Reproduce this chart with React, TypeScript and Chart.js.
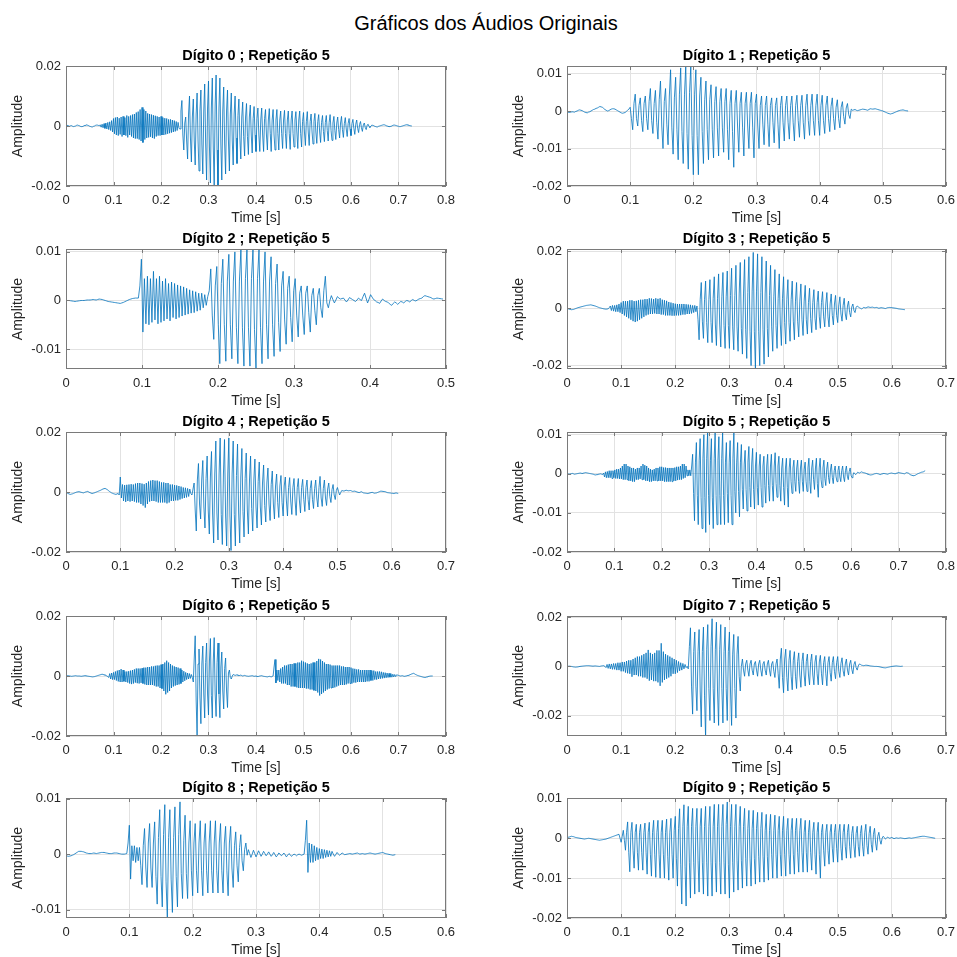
import React, { useEffect, useRef } from "react";
import { Chart, registerables } from "chart.js";

Chart.register(...registerables);

// Amplitude arrays are written in thousandths (value * AMP_UNIT = amplitude),
// one value every ~2 ms from t = 0 to the recording's duration.
const AMP_UNIT = 0.001;

const figureTitle = "Gráficos dos Áudios Originais";
const digitLabels = ["0", "1", "2", "3", "4", "5", "6", "7", "8", "9"];
const repetition = "5";

// length of each recording in seconds
const durations = [0.728, 0.54, 0.496, 0.624, 0.612, 0.756, 0.772, 0.62, 0.52, 0.68];
const xMaxes = [0.8, 0.6, 0.5, 0.7, 0.7, 0.8, 0.8, 0.7, 0.6, 0.7];
const yMins = [-0.02, -0.02, -0.0141, -0.0212, -0.02, -0.02, -0.02, -0.0283, -0.0115, -0.02];
const yMaxes = [0.02, 0.012, 0.0106, 0.0207, 0.02, 0.0107, 0.02, 0.0205, 0.0101, 0.0101];
const yTickSets = [
  [-0.02, 0, 0.02],
  [-0.02, -0.01, 0, 0.01],
  [-0.01, 0, 0.01],
  [-0.02, 0, 0.02],
  [-0.02, 0, 0.02],
  [-0.02, -0.01, 0, 0.01],
  [-0.02, 0, 0.02],
  [-0.02, 0, 0.02],
  [-0.01, 0, 0.01],
  [-0.02, -0.01, 0, 0.01],
];
const xTicks08 = [0, 0.1, 0.2, 0.3, 0.4, 0.5, 0.6, 0.7, 0.8];

const amp0 = [
  0, 0.1, 0.2, 0, -0.1, 0.1, 0.1, -0.1, -0.2, -0.1, 0, 0.2, 0.3, 0.2, 0.1, -0.1, -0.2, -0.2, -0.1, 0.1, 0.2, 0.3, 0.4, 0.2, 0.1, -0.1, -0.2, -0.3, -0.3, -0.1, 0, 0.2, 0.3, 0.3, 0.2, 0.1,
  0.4, -0.4, 0.6, -0.6, 0.8, -0.8, 1, -1, 1.2, -1.2, 1.4, -1.5, 1.8, -2,
  2.5, -2.6, 2.8, -3, 3, -3.2, 2.6, -2.8, 3, -3.5, 3.2, -3, 2.8, -3.2, 3.5, -3.8, 3.2, -3, 3.5, -3.5,
  3.8, -4, 4, -4.2, 4.5, -4.2, 4.8, -4.5, 5.5, -5, 6.2, -5.5, 5.5, -4.5, 5, -4, 4.2, -3.8, 4, -3.6,
  3.8, -4, 3.6, -4.2, 3.4, -3.5, 3.2, -3.2, 3, -3.2, 3.2, -3, 2.8, -3, 2.6, -2.8, 2.5, -2.6, 2.2, -2.4,
  2.2, -2.2, 2, -2, 1.8, -1.8, 1.5, -1.5, 1.2, -0.8,
  -1, 5, 8.5, -3, -8, 1, 3, -5, -11, 4, 10, -4, -12, 3, 9, -5, -13, 4, 11, -5,
  -15, 5, 12, -6, -16, 5, 14, -6, -18, 6, 15, -7, -19, 6, 16, -7, -20, 7, 17, -8,
  -20, 6, 16, -6, -18, 5, 13, -6, -16, 5, 12, -5, -15, 4, 11, -5, -13, 4, 10, -4,
  -12.5, 3.5, 9, -4, -11, 3, 8, -3.5, -10, 3, 7.5, -3.5, -9.5, 3, 7, -3, -9, 2.5, 6.5, -3,
  -8.5, 2.5, 6, -3, -8.5, 2, 6, -3, -8.5, 2.5, 5.5, -3, -8, 2, 5.8, -2.5, -8.5, 2, 5.5, -3,
  -8, 2, 5.5, -2.5, -8, 2, 5, -2.5, -7.5, 2, 5.2, -2.5, -7.5, 2, 5, -2.5, -7.8, 2, 5, -2.5,
  -7, 2, 4.8, -2, -7.5, 2, 5, -2.5, -7, 1.5, 4.5, -2, -6.5, 1.5, 4.8, -2, -6.5, 1.5, 4, -2,
  -6, 1.5, 4.2, -2, -5.8, 1.5, 3.8, -2, -5.5, 1.2, 3.5, -1.8, -5.2, 1.2, 3.5, -1.5, -5, 1.2, 3.8, -1.5,
  -4.8, 1, 3.2, -1.5, -4.5, 1, 3, -1.2, -4, 1, 3.2, -1.2, -3.8, 0.8, 2.8, -1, -3.5, 0.8, 2.5, -1,
  -3.2, 0.8, 2.2, -0.8, -2.8, 0.6, 2, -0.8, -2.2, 0.5, 1.5, -0.6, -1.8, 0.4, 1, -0.5, -1.2, 0.3, 0.6, -0.2,
  -0.5, 0,
  0.3, 0.2, 0.1, -0.1, -0.2, -0.3, -0.3, -0.1, 0, 0.1, 0.2, 0.3, 0.4, 0.4, 0.3, 0.1, 0, -0.1, -0.2, -0.2,
  -0.1, 0, 0.2, 0.3, 0.3, 0.2, 0.1, 0, -0.1, -0.2, -0.2, -0.1, 0, 0.1, 0.2, 0.3, 0.4, 0.4, 0.3, 0.2,
  0.1, 0.05, 0,
];

const amp1 = [
  -0.3, -0.35, -0.4, -0.3, -0.2, -0.25, -0.3, -0.1, 0, 0.2, 0.3, 0.2, 0.1, -0.1, -0.3, -0.4, -0.5, -0.3, -0.2, 0,
  0.2, 0.4, 0.5, 0.7, 0.8, 1, 1.2, 1.1, 1.0, 0.7, 0.4, 0.2, 0, 0.1, 0.3, 0.5, 0.6, 0.6, 0.5, 0.3,
  0.1, -0.1, -0.3, -0.5, -0.6, -0.5, -0.4, -0.1, 0.2, 0.5,
  1, -2, -5, 2, 4.5, -2, -4, 1.5, 3.5, -2.5, -5.5, 2, 4, -2, -5, 2.5, 6, -2.5, -6, 2,
  5.5, -3, -7.5, 3, 8, -4, -10, 2.5, 6, -3.5, -9, 4, 11, -4.5, -11.5, 3.5, 9, -5, -13, 4.5,
  11.5, -5.5, -14, 4.5, 12, -6, -15.5, 5, 12, -6.5, -17, 4.5, 11, -6.5, -17, 4, 9, -5.5, -14, 3,
  8, -5, -13, 3, 7, -5, -12.5, 2.5, 6.5, -4.5, -12, 2.5, 6, -4.5, -11, 2.5, 6, -5, -13, 2,
  5.5, -5.5, -15, 2, 5.5, -4, -11, 2, 5, -4.5, -12, 2, 5, -4, -10, 2, 5, -4.5, -12.5, 2,
  4.5, -4, -10, 1.5, 4, -3.5, -9, 1.5, 4, -3.5, -9.5, 1.5, 3.5, -3, -8.5, 1.5, 3.5, -3.5, -10, 1.5,
  4, -3, -8, 1.5, 4, -3, -7.5, 1.5, 4, -3, -8, 1.5, 4.2, -2.5, -7, 1.5, 4.2, -3, -7.5, 1.5,
  4.5, -2.5, -6.5, 1.5, 4.5, -2.5, -6.5, 1.5, 4.5, -2.5, -6.5, 1.5, 4.2, -2.5, -6, 1.5, 4, -2, -5.5, 1.2,
  3.5, -2, -5, 1, 3, -2, -4.5, 1, 2.5, -1.5, -3.5, 0.8, 2, -1, -2, 0.5,
  0.2, 0.3, 0.4, 0.2, 0.1, 0.2, 0.3, 0.4, 0.5, 0.45, 0.4, 0.3, 0.2, 0.4, 0.6, 0.55, 0.5, 0.55, 0.6, 0.5,
  0.4, 0.3, 0.2, 0.1, 0, -0.15, -0.3, -0.45, -0.6, -0.7, -0.8, -0.7, -0.6, -0.45, -0.3, -0.15, 0, 0.1, 0.2, 0.25,
  0.3, 0.2, 0.1, 0.05, 0,
];

const amp2 = [
  0, 0, 0, -0.05, -0.1, -0.15, -0.2, -0.15, -0.1, -0.05, 0, 0, 0, 0.05, 0.1, 0.1, 0.1, 0.15, 0.2, 0.15,
  0.1, 0.2, 0.3, 0.25, 0.2, 0.1, 0, -0.1, -0.2, -0.25, -0.3, -0.35, -0.4, -0.45, -0.5, -0.55, -0.6, -0.5, -0.4, -0.25,
  -0.1, 0.05, 0.2, 0.3, 0.4, 0.45, 0.5, 0.5, 0.5, 3,
  8.5, -6.5, 4.5, -4.8, 5, -5, 4.5, -4.5, 6, -4, 4.5, -4.8, 5, -4.5, 4, -4.2, 4.5, -3.8, 3.5, -4.2,
  3.8, -3.5, 3.5, -3.8, 3.2, -3.5, 3, -3.2, 2.8, -3, 2.5, -2.8, 2.2, -2.6, 2, -2.5, 1.8, -2.2, 1.5, -2,
  1.5, -1.5, 1.2, -1,
  0.8, 2,
  6.5, -3, -8, 3, 7, -5, -13, 3.5, 8.5, -5, -12.5, 4, 9.5, -5, -12, 4, 10, -5.5, -13, 4,
  10.5, -5.5, -13.5, 4.5, 10.5, -5.5, -13.5, 4.5, 10.5, -6, -14, 4.5, 10.5, -5.5, -13, 4, 10, -5, -12, 4,
  9, -5, -11.5, 3.5, 7.5, -4.5, -10.5, 3, 6, -4, -9, 2.5, 5, -3.5, -8.5, 2, 4.5, -3, -7.5, 1.5,
  3, -3, -7, 1.5, 3, -2.5, -6.5, 1, 2.5, -2, -5, 1, 2.5, -1.5, -3.5, 2, 5, -0.5, -1.5, 0,
  1, 0.2, -0.5, 0.1, 0.8, 0.5, 0.3, 0.4, 0.5, 0.1, -0.3, 0.1, 0.6, 0.4, 0.2, 0, -0.2, 0.1, 0.5, 0.2,
  0, 0.8, 1.5, 0.5, -0.5, 0.3, 1.2, 0.7, 0.2, 0, -0.3, -0.4, -0.6, -0.1, 0.3, 0, -0.2, -0.3, -0.5, -0.8,
  -1, -0.6, -0.3, -0.5, -0.8, -0.5, -0.2, -0.3, -0.5, -0.2, 0, -0.1, -0.3, 0, 0.2, 0, -0.1, 0.1, 0.3, 0.4,
  0.5, 0.8, 1, 0.9, 0.8, 0.7, 0.6, 0.4, 0.3, 0.4, 0.5, 0.45, 0.4, 0.35, 0.3,
];

const amp3 = [
  0, -0.15, -0.3, -0.4, -0.5, -0.45, -0.4, -0.25, -0.1, 0.05, 0.2, 0.3, 0.4, 0.5, 0.6, 0.7, 0.8, 0.9, 1, 1.05,
  1.1, 1.15, 1.2, 1.1, 1, 0.9, 0.8, 0.65, 0.5, 0.35, 0.2, 0.1, 0, -0.1, -0.2, -0.25, -0.3, -0.25, -0.2, 0.2,
  0.8, -0.8, 1, -1, 1, -1.2, 1.2, -1.2, 1.5, -1.5, 2, -2, 2.5, -2.5, 2.5, -3, 2.5, -3.5, 2.8, -4,
  2.8, -4.5, 2.5, -4.8, 2.6, -4.5, 2.8, -4, 3, -3.5, 3, -3, 3.2, -2.5, 3.2, -2.2, 3.5, -2, 3.4, -2,
  3.2, -1.8, 3.5, -2, 3.3, -2, 3.5, -2.2, 3, -2.2, 2.8, -2.5, 2.6, -2.5, 2.2, -2.5, 2, -2.6, 1.8, -2.6,
  1.6, -2.5, 1.5, -2.5, 1.5, -2.4, 1.5, -2.2, 1.5, -2.2, 1.4, -2, 1.3, -2, 1.2, -1.8, 1, -1.5, 1, -1.2,
  0.8, -4,
  -11, 3, 9, -4.5, -10.5, 3, 9.5, -5, -12, 3, 10, -5, -12, 3.5, 11, -5.5, -13, 3.5, 12, -5.5,
  -13.5, 4, 12.5, -6, -14, 4, 13, -6, -14, 4.5, 14, -6.5, -14.5, 4.5, 15, -6.5, -15, 5, 16, -7,
  -16, 5, 17, -7.5, -17.5, 5.5, 18, -8, -20, 6, 19.5, -8, -21, 6, 19, -8, -20, 5.5, 18, -7.5,
  -19.5, 5, 16.5, -7, -17, 4.5, 15, -6.5, -15, 4, 13.5, -6, -14, 3.5, 12, -5.5, -13, 3.5, 11, -5,
  -12.5, 3, 10, -5, -11.5, 3, 9.5, -4.5, -11, 2.5, 9, -4.5, -10, 2.5, 8.5, -4, -9.5, 2.5, 8, -4,
  -9, 2, 7, -3.5, -8.5, 2, 6.5, -3.5, -7.5, 2, 6, -3, -7, 2, 5.8, -3, -6.5, 1.5, 5.5, -3,
  -6.5, 1.5, 5, -2.5, -5.8, 1.5, 4.5, -2.5, -5, 1.2, 4, -2, -4.5, 1, 3.5, -2, -4, 0.8, 2.5, -1.5,
  -3, 0.5, 1.5, -0.8, -1.5, 0.3, 0.8, 0.5,
  0.2, 0, -0.2, 0, 0.3, 0.2, 0.1, 0.3, 0.5, 0.4, 0.3, 0.35, 0.4, 0.3, 0.2, 0.25, 0.3, 0.15, 0, 0.1,
  0.2, 0.15, 0.1, 0, -0.1, 0.05, 0.2, 0.25, 0.3, 0.25, 0.2, 0.15, 0.1, 0.05, 0, -0.1, -0.2, -0.25, -0.3, -0.35,
  -0.4, -0.45, -0.5,
];

const amp4 = [
  0, -0.3, -0.5, -0.7, -0.8, -0.7, -0.6, -0.45, -0.3, -0.15, 0, 0.05, 0.1, 0, -0.1, -0.2, -0.3, -0.15, 0, 0.1,
  0.2, 0, -0.2, -0.35, -0.5, -0.4, -0.3, -0.15, 0, 0.15, 0.3, 0.45, 0.6, 0.8, 1, 1.1, 1.2, 1, 0.8, 0.5,
  0.2, -0.05, -0.3, -0.45, -0.6, -0.7, -0.8, -0.65, -0.5, -1,
  5, -2, 2.5, -3, 2.3, -3.3, 2.4, -3, 2.5, -3.2, 2.6, -3, 2.5, -3.2, 2.8, -3.5, 3, -3.5, 3, -4,
  2.8, -4.5, 2.6, -5.2, 3, -4, 3.5, -3.2, 3.8, -3, 4, -3, 3.8, -3.2, 3.8, -3.5, 3.5, -3.5, 3.2, -3.5,
  3.2, -3.5, 3, -3.8, 3, -3.5, 2.5, -3, 2.5, -3, 2.3, -2.8, 2.2, -2.8, 2, -2.5, 1.8, -2.2, 1.5, -2,
  1.4, -1.8, 1.2, -1.5, 1, -0.5,
  -1, 1, 3, -6, -13, 4, 9.5, -4, -9, 4, 10.5, -5, -12, 4.5, 12, -6, -14, 5, 13.5, -7,
  -17, 6, 17, -7, -16, 6, 18, -7.5, -17.5, 6, 17.5, -8, -18, 6, 18, -8, -19.5, 6, 17, -7.5,
  -18, 5.5, 16, -7, -17, 5, 14.5, -6.5, -15, 4.5, 13, -6, -14, 4, 12, -5.5, -13, 4, 11, -5,
  -12, 3.5, 10, -5, -11, 3, 9, -4.5, -10, 3, 8, -4, -9.5, 2.5, 7, -4, -9, 2, 6, -3.5,
  -8.5, 2, 5.5, -3.5, -8, 2, 5, -3, -8, 1.5, 4.8, -3, -7.5, 1.5, 4.5, -3, -7.8, 1.5, 4.5, -3,
  -7, 1.5, 4.2, -2.5, -6.5, 1.5, 4, -2.5, -6, 1.2, 3.8, -2.5, -5.5, 1.2, 4, -2, -5, 1.5, 5.2, -2,
  -4.8, 1.2, 4, -2, -4.5, 1, 3, -1.5, -3.5, 0.8, 2.5, -1, -2.5, 0.5, 1.5, 0.2,
  -1, -0.2, 0.5, 0.4, 0.3, 0.45, 0.6, 0.5, 0.4, 0.45, 0.5, 0.35, 0.2, 0.25, 0.3, 0.15, 0, -0.1, -0.2, -0.05,
  0.1, -0.1, -0.3, -0.35, -0.4, -0.45, -0.5, -0.4, -0.3, -0.2, -0.1, -0.25, -0.4, -0.35, -0.3, -0.15, 0, 0.15, 0.3, 0.25,
  0.2, 0.15, 0.1, -0.05, -0.2, -0.25, -0.3, -0.35, -0.4, -0.45, -0.5, -0.4, -0.3, -0.4, -0.5,
];

const amp5 = [
  0, -0.05, -0.1, -0.05, 0, 0.05, 0.1, 0, -0.1, -0.05, 0, 0.05, 0.1, 0.15, 0.2, 0.15, 0.1, 0.15, 0.2, 0.25,
  0.3, 0.25, 0.2, 0.15, 0.1, 0.05, 0, -0.05, -0.1, -0.2, -0.3, -0.25, -0.2, -0.15, -0.1, -0.05, 0, -0.1, -0.2, 0.2,
  -0.8, 0.5, -1, 0.6, -1, 0.8, -1, 0.8, -1.2, 0.8, -1, 1, -1.2, 1.2, -1.2, 1.2, -1.3, 1.5, -1.3, 2,
  -1.5, 2.5, -1.5, 2.5, -1.5, 2, -1.8, 1.8, -1.8, 1.5, -2, 1.5, -2, 1.2, -1.5, 1.5, -1.5, 1.5, -1.3, 2,
  -1.5, 2.5, -1.5, 2.2, -1.8, 2, -1.8, 1.5, -2, 1.2, -2, 1, -1.8, 1.2, -1.8, 1.5, -1.8, 1.5, -1.8, 1.8,
  -1.8, 1.8, -1.8, 1.6, -2, 1.6, -2, 1.5, -2, 1.5, -2, 1.5, -2, 1.5, -1.8, 1.6, -1.8, 1.8, -1.6, 1.8,
  -1.5, 2, -1.5, 2.5, -1.2, 2.5, -1, 2, -0.5, 1, -0.5, 1, -0.5, 2,
  5, -5, -12, 3, 8, -5.5, -13, 3.5, 9, -6, -14, 4, 10, -6, -15, 4, 10.7, -5.5, -13, 3.5,
  9, -6, -14, 4, 10.7, -5.5, -13, 3.5, 9.5, -5.5, -13, 4, 10.7, -5.5, -13, 3, 8, -5, -12.5, 3,
  8.5, -5.5, -13, 4, 10.7, -4.5, -10, 3, 8, -4.5, -11, 3, 7.5, -4, -9, 2.5, 6, -4, -9.5, 3,
  7, -3.5, -8.5, 2.5, 6.5, -4, -9, 2, 5.5, -3.5, -8, 2, 5, -3.5, -8.5, 2, 4.5, -3, -7.5, 2,
  5, -3, -7, 2, 5, -3, -7, 2, 5.4, -2.5, -6, 2, 4.5, -3, -7, 1.5, 4, -3.5, -8, 1.5,
  4, -3.5, -8.5, 1.5, 4, -2, -5, 1.5, 3.5, -2, -4.5, 1.5, 3.5, -2, -5, 1.5, 3.5, -2, -4.5, 1.2,
  3, -2, -4.5, 1.5, 4, -2, -5, 1.5, 3.5, -1.5, -4, 1.5, 4, -2.5, -6, 1.5, 4, -1.5, -3.5, 1.5,
  3.5, -1.2, -3, 1.2, 3, -1, -2.5, 1, 2.5, -1, -2.5, 0.8, 2, -0.8, -2, 0.8, 2, -0.8, -2, 0.8,
  2, -0.8, -2, 0.8, 2, -0.6, -1.5, 0.6, 1.5, -0.4, -1, -0.3,
  0.3, 0, -0.2, 0.1, 0.4, 0.3, 0.2, 0.35, 0.5, 0.4, 0.3, 0.25, 0.2, 0.1, 0, -0.1, -0.2, -0.25, -0.3, -0.25,
  -0.2, -0.1, 0, 0.05, 0.1, 0.05, 0, -0.1, -0.2, -0.1, 0, 0.05, 0.1, 0.05, 0, -0.05, -0.1, 0, 0.1, 0.15,
  0.2, 0.15, 0.1, 0.05, 0, 0.1, 0.2, 0.25, 0.3, 0.25, 0.2, 0.15, 0.1, 0.05, 0, 0.15, 0.3, 0.25, 0.2, 0,
  -0.2, -0.3, -0.4, -0.45, -0.5, -0.4, -0.3, -0.15, 0, 0.1, 0.2, 0.3, 0.4, 0.45, 0.5, 0.65, 0.8,
];

const amp6 = [
  0, 0.05, 0.1, 0.05, 0, -0.05, -0.1, -0.05, 0, 0.05, 0.1, 0.05, 0, 0, 0, -0.05, -0.1, -0.05, 0, 0.05,
  0.1, 0.05, 0, -0.05, -0.1, -0.15, -0.2, -0.25, -0.3, -0.25, -0.2, -0.1, 0, 0.1, 0.2, 0.3, 0.4, 0.5, 0.6, 0.5,
  0.4, 0.3, 0.2, 0, -0.2, -0.5,
  0.8, -1, 1, -1.2, 1.2, -1.2, 1.5, -1.5, 1.8, -1.8, 2, -2, 2.3, -2, 2, -1.8, 1.5, -2, 1.5, -2.2,
  1.6, -2.5, 1.8, -2.7, 2, -2.5, 2.2, -2.2, 2.5, -2.4, 2.5, -2.5, 2.5, -2.3, 2.6, -2.5, 2.8, -2.8, 2.8, -3,
  3, -3, 3, -3, 3.2, -3, 3.2, -3.2, 3.4, -3.5, 3.5, -3.5, 3.5, -4, 3.8, -4.2, 4, -5, 4.5, -6.1,
  5.1, -5.5, 4.5, -5, 4, -4, 3.5, -3.5, 3.2, -3.2, 3, -3, 2.8, -2.8, 2.5, -2.5, 2, -2, 1.6, -1.6,
  1.2, -1.2, 1, -1, 0.8, -0.8, 0.5, -0.5,
  -2, 6, 13.4, -8, -20, 4, 9, -7, -15.9, 4, 10, -6, -14, 4.5, 11, -6, -13, 5, 12.5, -6.5,
  -14, 5, 12.8, -6, -13.5, 4.5, 11, -6, -13.9, 3, 8, -5, -11, 2.5, 6, -5, -10.5, 1, 2, -0.5,
  -1, 0,
  0.5, 0.35, 0.2, 0.3, 0.4, 0.25, 0.1, 0.2, 0.3, 0.15, 0, 0.1, 0.2, 0.1, 0, -0.05, -0.1, -0.05, 0, 0.05,
  0.1, 0, -0.1, -0.05, 0, -0.1, -0.2, -0.1, 0, 0.05, 0.1, 0, -0.1, -0.15, -0.2, -0.25, -0.3, -0.2, -0.1, -0.2,
  -0.3, -0.15, 0, 3,
  5.5, -2.3, 2, -1.5, 2, -2, 2.5, -2.5, 3, -2.5, 3.5, -2.5, 3.5, -3, 3.8, -3, 4, -3.5, 4, -3.5,
  4.2, -3.5, 4.2, -3.8, 4.5, -4, 4.5, -4, 5.1, -4, 4.8, -4, 4.5, -4.2, 4.2, -4.2, 4, -4.5, 4.2, -4.5,
  4.5, -4.8, 4.5, -5, 5, -5.5, 5.7, -6.5, 5.5, -6, 5, -5.5, 4.5, -5, 4, -4.5, 4, -4.2, 3.8, -4,
  3.5, -4, 3.5, -3.8, 3.5, -3.5, 3.5, -3.2, 3.5, -3, 3.2, -3, 3.2, -3, 3, -2.8, 3, -2.5, 3, -2.5,
  2.8, -2.5, 2.5, -2.2, 2.4, -2.2, 2.2, -2, 2.2, -2, 2, -2, 2, -2, 2, -2, 2, -1.8, 2, -1.8,
  2, -1.5, 1.8, -1.5, 1.8, -1.2, 1.5, -1.2, 1.5, -1, 1.5, -0.9, 1.4, -0.8, 1.2, -0.7, 1.1, -0.6, 1, -0.5,
  0.9, -0.4, 0.8, -0.4, 0.6, -0.3, 0.5, -0.2, 0.4, 0.3,
  0.2, 0.1, 0, 0.05, 0.1, 0, -0.1, -0.05, 0, 0.1, 0.2, 0.3, 0.4, 0.55, 0.7, 0.8, 0.9, 0.7, 0.5, 0.35,
  0.2, 0.1, 0, -0.1, -0.2, -0.3, -0.4, -0.45, -0.5, -0.4, -0.3, -0.2, -0.1, -0.05, 0, 0, 0,
];

const amp7 = [
  0, 0.05, 0.1, 0.05, 0, -0.1, -0.2, -0.25, -0.3, -0.25, -0.2, -0.1, 0, 0.05, 0.1, 0.15, 0.2, 0.25, 0.3, 0.3,
  0.3, 0.25, 0.2, 0.15, 0.1, 0.15, 0.2, 0.15, 0.1, 0.05, 0, 0.1, 0.2, 0.25, 0.3, 0,
  -0.5, 0.8, -0.8, 1, -1, 1, -1.2, 1.2, -1.2, 1.2, -1.5, 1.5, -1.5, 1.5, -2, 1.8, -2, 1.8, -2.5, 2.2,
  -2.8, 2.5, -3, 2.5, -4.2, 3, -3.5, 3.5, -3.5, 4, -4, 4, -4, 4.5, -4.5, 5, -4.5, 5.5, -5, 6.7,
  -5.8, 5.5, -5.5, 5, -6, 5.5, -6, 6.5, -6.5, 6.5, -7.9, 9.4, -6.5, 6, -5.5, 5, -5, 4.5, -4.5, 4,
  -4, 3.5, -3, 3, -3, 2.5, -2.5, 2, -1.8, 1.5, -1.5, 1.2, -1, 0.8, -0.5, 0,
  -1, 8, 15.7, -8, -19.4, 6, 14, -8, -18, 6, 15, -10, -24.6, 6, 16, -12, -29, 7, 17, -9,
  -22, 8, 19.4, -9, -23, 7, 18, -10, -24, 7, 17, -9, -23, 6, 16, -9, -22, 6, 14, -10,
  -24, 5, 13, -9, -21, 5, 12.2, -4, -10, 0,
  3, -1.5, -4, 1, 2.5, -1.5, -4, 1, 2.5, -1.5, -3.5, 1, 2, -1.5, -4, 1, 2.5, -1.5, -4, 1,
  2, -1.5, -3.5, 1, 2.5, -1.5, -4, 1, 2, -2, -4.5, 1, 3, -3,
  -8.9, 3, 7.4, -4.5, -10.7, 3, 7, -4.5, -10, 2.5, 6.5, -4, -9.5, 2.5, 6, -4, -9, 2, 5.5, -3.5,
  -8.5, 2, 5.5, -3.5, -8, 2, 5, -3.5, -7.5, 2, 5, -3.5, -7.5, 1.8, 4.5, -3, -7.5, 1.8, 4.5, -3,
  -7.5, 1.5, 4, -3, -7.9, 1.5, 4, -2.5, -6, 1.5, 4, -2, -5, 1.5, 4, -2, -4.5, 1.2, 3.5, -1.8,
  -4, 1, 3, -1.5, -3.5, 1, 2.5, -1.2, -3, 0.8, 2, -0.5, -1.5, 0.2, 1, 0.8,
  0.5, 0.4, 0.3, 0.4, 0.5, 0.45, 0.4, 0.3, 0.2, 0.15, 0.1, 0.05, 0, 0, 0, -0.05, -0.1, -0.2, -0.3, -0.4,
  -0.5, -0.55, -0.6, -0.5, -0.4, -0.3, -0.2, -0.1, 0, 0.05, 0.1, 0.15, 0.2, 0.15, 0.1, 0.05, 0, 0.05, 0.1,
];

const amp8 = [
  -0.3, -0.35, -0.4, -0.35, -0.3, -0.2, -0.1, 0.05, 0.2, 0.35, 0.5, 0.5, 0.5, 0.45, 0.4, 0.3, 0.2, 0.15, 0.1, 0.1,
  0.1, 0.15, 0.2, 0.15, 0.1, 0.15, 0.2, 0.25, 0.3, 0.3, 0.3, 0.25, 0.2, 0.15, 0.1, 0.1, 0.1, 0.15, 0.2, 0.2,
  0.2, 0.15, 0.1, 0.05, 0, 0, 0, 0.05, 0.1, 2,
  5.2, -4.5, 1.5, -1.2, 1.5, -1.5, 1.2, -1.2, 1.2, -2,
  -5.5, 1.5, 4.6, -2.5, -6, 2, 5.5, -2.5, -6, 2, 5.8, -4, -9, 3, 8, -4, -9.5, 3.5, 8.9, -5,
  -11.6, 3, 8, -4.5, -10.5, 3, 8.5, -4, -9.5, 3.5, 9.4, -3.5, -8, 2.5, 7, -3.5, -8, 2, 6, -3,
  -7.5, 2, 5.5, -3, -7, 2, 6, -3, -7.5, 2, 5.5, -3, -7, 2, 6, -3, -7, 2, 6, -3,
  -7, 2, 5.5, -3, -7, 2, 5, -3, -7.5, 2, 5, -2.5, -6, 1.5, 4, -2, -5, 1.2, 3.5, -1.2,
  -3, 0.8, 2, -0.2,
  0.8, 0.1, -0.6, 0, 0.7, 0.1, -0.5, 0, 0.6, 0.1, -0.4, 0, 0.5, 0.1, -0.3, 0, 0.4, 0, -0.4, -0.1,
  0.3, -0.1, -0.5, -0.2, 0.2, 0, -0.3, -0.1, 0.2, -0.1, -0.5, -0.2, 0.1, -0.1, -0.4, -0.2, 0, -0.1, -0.3, -0.1,
  0, -0.1, -0.2, -0.1, 0, 2.5,
  6.1, -3.3, 2, -1.5, 1.8, -1.5, 1.5, -1.2, 1.2, -1, 1, -0.8, 0.9, -0.8, 0.8, -0.6, 0.7, -0.5, 0.6, -0.4,
  0.5, 0,
  -0.4, -0.05, 0.3, 0, -0.2, 0, 0.2, 0.05, -0.1, -0.05, 0, 0.05, 0.1, 0.05, 0, 0.05, 0.1, 0.15, 0.2, 0.1,
  0, 0.05, 0.1, 0.05, 0, 0.05, 0.1, 0.15, 0.2, 0.15, 0.1, 0.05, 0, 0.05, 0.1, 0.15, 0.2, 0.25, 0.3, 0.2,
  0.1, 0.05, 0, -0.05, -0.1, -0.15, -0.2, -0.15, -0.1,
];

const amp9 = [
  0.2, 0.25, 0.3, 0.4, 0.5, 0.45, 0.4, 0.3, 0.2, 0.15, 0.1, 0.05, 0, -0.05, -0.1, -0.15, -0.2, -0.15, -0.1, -0.05,
  0, -0.05, -0.1, -0.15, -0.2, -0.25, -0.3, -0.35, -0.4, -0.45, -0.5, -0.45, -0.4, -0.35, -0.3, -0.25, -0.2, -0.1, 0, 0.1,
  0.2, 0.3, 0.4, 0.5, 0.6, 0.7, 0.8, 0.9, 1, 0,
  -1, 0.5, 2, -0.5, -3, 1.5, 4.1, -3.5, -8.4, 1.5, 4, -3, -7.5, 1.5, 3.5, -3.5, -8, 1.5, 3.5, -3.5,
  -8, 1.5, 3.8, -3.5, -9, 1.5, 4, -4, -9.5, 1.5, 4.5, -4, -9.8, 1.5, 4.5, -4, -10, 1.5, 4.5, -4,
  -10, 1.5, 4.8, -4.5, -10.5, 1.5, 5, -4, -10, 2, 5.5, -5, -12, 2.5, 7.4, -6.5, -16.5, 3, 8.4, -7,
  -17, 3, 8, -6, -15, 3, 7.5, -6, -14, 3, 7.5, -5.5, -13.5, 3, 7.5, -6, -14, 3, 8, -6,
  -14.5, 3, 8, -6, -14.5, 3, 8.5, -6, -13.5, 3, 8.5, -6, -14, 3, 8.5, -6, -14, 3.5, 9.1, -6.5,
  -15, 3, 8.5, -6, -13.5, 3, 8.5, -5.5, -13, 3, 8, -5.5, -12.5, 3, 7.5, -5, -12, 2.5, 7, -5,
  -12, 2.5, 7, -5, -11.5, 2.5, 6.5, -4.5, -11, 2.5, 6.5, -4.5, -11, 2, 6, -4.5, -10.5, 2, 6, -4,
  -10, 2, 5.8, -4, -10, 2, 5.5, -4, -9.5, 2, 5.5, -4, -9.5, 2, 5, -4, -9, 2, 5, -4,
  -9, 2, 5, -3.5, -8.5, 2, 5, -3.5, -8.5, 1.5, 4.5, -3.5, -8.5, 1.5, 4.5, -3.5, -8, 1.5, 4, -4,
  -9, 1.5, 4, -4, -10, 1.5, 3.5, -3, -7, 1.5, 3.5, -3, -6.5, 1.5, 3.5, -2.5, -6, 1.5, 3.5, -2.5,
  -6, 1.5, 3.5, -2.5, -5.5, 1.5, 3.5, -2, -5, 1.5, 3.5, -2, -5, 1.2, 3, -2, -4.8, 1.2, 3, -2,
  -4.5, 1.2, 3.2, -2, -4.5, 1.5, 3.5, -1.8, -4, 1.2, 3, -1.5, -3.5, 1, 2.5, -1.2, -3, 0.5, 1.5, -0.5,
  -1.5, 0,
  0.5, 0.2, -0.2, 0, 0.3, 0.15, 0, 0.1, 0.2, 0.05, -0.1, 0, 0.1, 0.05, 0, 0.05, 0.1, 0.05, 0, -0.05,
  -0.1, -0.05, 0, 0.05, 0.1, 0.05, 0, 0.05, 0.1, 0.15, 0.2, 0.25, 0.3, 0.35, 0.4, 0.45, 0.5, 0.5, 0.5, 0.45,
  0.4, 0.35, 0.3, 0.25, 0.2, 0.15, 0.1, 0.05, 0,
];

const amplitudes = [amp0, amp1, amp2, amp3, amp4, amp5, amp6, amp7, amp8, amp9];

// layout (page pixels) of the plot areas
const colLefts = [66, 567];
const colWidths = [380, 379];
const rowTops = [66, 249, 432, 616, 798];
const plotHeight = 120;
const Y_AXIS_W = 60;
const TOP_PAD = 30;
const X_AXIS_H = 45;
const RIGHT_PAD = 20;

const FONT = '"Liberation Sans", Arial, Helvetica, sans-serif';
const LINE_COLOR = "#0072BD";
const GRID_COLOR = "#e2e2e2";
const BOX_COLOR = "#7a7a7a";
const TEXT_COLOR = "#262626";

const fmt = (v: number) => String(parseFloat(Number(v).toFixed(4)));

function Panel({ index }: { index: number }) {
  const ref = useRef<HTMLCanvasElement | null>(null);
  const col = index % 2;
  const row = Math.floor(index / 2);
  const plotW = colWidths[col];
  const width = Y_AXIS_W + plotW + RIGHT_PAD;
  const height = TOP_PAD + plotHeight + X_AXIS_H;
  const left = colLefts[col] - Y_AXIS_W;
  const top = rowTops[row] - TOP_PAD;

  useEffect(() => {
    if (!ref.current) return;
    const values = amplitudes[index];
    const dur = durations[index];
    const n = values.length;
    const points = values.map((v, i) => ({ x: (i * dur) / (n - 1), y: v * AMP_UNIT }));
    const xMax = xMaxes[index];
    const xTicks = xTicks08.filter((t) => t <= xMax + 1e-9);
    const yTicks = yTickSets[index];
    const title = `Dígito ${digitLabels[index]} ; Repetição ${repetition}`;

    const framePlugin = {
      id: "frame",
      afterDatasetsDraw(chart: any) {
        const { ctx, chartArea } = chart;
        const l = Math.round(chartArea.left);
        const r = Math.round(chartArea.right);
        const t = Math.round(chartArea.top);
        const b = Math.round(chartArea.bottom);
        ctx.save();
        ctx.strokeStyle = BOX_COLOR;
        ctx.lineWidth = 1;
        ctx.strokeRect(l + 0.5, t + 0.5, r - l - 1, b - t - 1);
        const xs = chart.scales.x;
        const ys = chart.scales.y;
        ctx.beginPath();
        xTicks.forEach((v) => {
          const px = Math.round(xs.getPixelForValue(v)) + 0.5;
          ctx.moveTo(px, b);
          ctx.lineTo(px, b - 4);
          ctx.moveTo(px, t);
          ctx.lineTo(px, t + 4);
        });
        yTicks.forEach((v) => {
          const py = Math.round(ys.getPixelForValue(v)) + 0.5;
          ctx.moveTo(l, py);
          ctx.lineTo(l + 4, py);
          ctx.moveTo(r, py);
          ctx.lineTo(r - 4, py);
        });
        ctx.stroke();
        ctx.fillStyle = "#000";
        ctx.font = `bold 14.5px ${FONT}`;
        ctx.textAlign = "center";
        ctx.textBaseline = "alphabetic";
        ctx.fillText(title, (chartArea.left + chartArea.right) / 2, chartArea.top - 6);
        ctx.restore();
      },
    };

    const chart = new Chart(ref.current, {
      type: "line",
      data: {
        datasets: [
          {
            data: points,
            borderColor: LINE_COLOR,
            borderWidth: 0.8,
            pointRadius: 0,
            tension: 0,
            fill: false,
          },
        ],
      },
      options: {
        animation: false,
        responsive: false,
        parsing: false,
        normalized: true,
        events: [],
        layout: { padding: { left: 0, top: TOP_PAD, right: RIGHT_PAD, bottom: 0 } },
        plugins: {
          legend: { display: false },
          tooltip: { enabled: false },
          title: { display: false },
        },
        scales: {
          x: {
            type: "linear",
            min: 0,
            max: xMax,
            afterBuildTicks: (s: any) => {
              s.ticks = xTicks.map((v) => ({ value: v }));
            },
            afterFit: (s: any) => {
              s.height = X_AXIS_H;
              s.paddingLeft = 0;
              s.paddingRight = 0;
            },
            grid: { color: GRID_COLOR, drawTicks: false, lineWidth: 1 },
            border: { display: false },
            ticks: {
              padding: 7,
              color: TEXT_COLOR,
              font: { size: 13, family: FONT },
              maxRotation: 0,
              autoSkip: false,
              callback: (v: any) => fmt(v),
            },
            title: {
              display: true,
              text: "Time [s]",
              color: TEXT_COLOR,
              font: { size: 14, family: FONT },
              padding: { top: 0, bottom: 4 },
            },
          },
          y: {
            type: "linear",
            min: yMins[index],
            max: yMaxes[index],
            afterBuildTicks: (s: any) => {
              s.ticks = yTicks.map((v) => ({ value: v }));
            },
            afterFit: (s: any) => {
              s.width = Y_AXIS_W;
              s.paddingTop = 0;
              s.paddingBottom = 0;
            },
            grid: { color: GRID_COLOR, drawTicks: false, lineWidth: 1 },
            border: { display: false },
            ticks: {
              padding: 5,
              color: TEXT_COLOR,
              font: { size: 13, family: FONT },
              autoSkip: false,
              callback: (v: any) => fmt(v),
            },
            title: {
              display: true,
              text: "Amplitude",
              color: TEXT_COLOR,
              font: { size: 14, family: FONT },
              padding: { top: 4, bottom: 0 },
            },
          },
        },
      },
      plugins: [framePlugin],
    } as any);
    return () => chart.destroy();
  }, [index]);

  return (
    <canvas
      ref={ref}
      width={width}
      height={height}
      style={{ position: "absolute", left, top, width, height }}
    />
  );
}

export default function App() {
  return (
    <div
      style={{
        position: "absolute",
        left: 0,
        top: 0,
        width: 957,
        height: 957,
        background: "#fff",
        overflow: "hidden",
      }}
    >
      <div
        style={{
          position: "absolute",
          left: 286,
          top: 11,
          width: 400,
          textAlign: "center",
          fontFamily: FONT,
          fontSize: 20,
          lineHeight: "24px",
          color: "#000",
          whiteSpace: "nowrap",
        }}
      >
        {figureTitle}
      </div>
      {amplitudes.map((_, i) => (
        <Panel key={i} index={i} />
      ))}
    </div>
  );
}
